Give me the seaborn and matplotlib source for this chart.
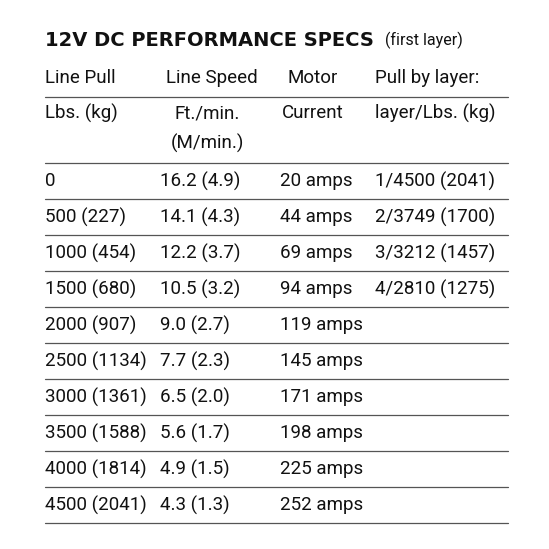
import matplotlib.pyplot as plt
import seaborn as sns

title = "12V DC PERFORMANCE SPECS"
subtitle = "(first layer)"
header1 = ["Line Pull", "Line Speed", "Motor", "Pull by layer:"]
header2 = ["Lbs. (kg)", "Ft./min.\n(M/min.)", "Current", "layer/Lbs. (kg)"]
line_pull = ["0", "500 (227)", "1000 (454)", "1500 (680)", "2000 (907)", "2500 (1134)",
             "3000 (1361)", "3500 (1588)", "4000 (1814)", "4500 (2041)"]
line_speed = ["16.2 (4.9)", "14.1 (4.3)", "12.2 (3.7)", "10.5 (3.2)", "9.0 (2.7)",
              "7.7 (2.3)", "6.5 (2.0)", "5.6 (1.7)", "4.9 (1.5)", "4.3 (1.3)"]
current = ["20 amps", "44 amps", "69 amps", "94 amps", "119 amps", "145 amps",
           "171 amps", "198 amps", "225 amps", "252 amps"]
layer_pull = ["1/4500 (2041)", "2/3749 (1700)", "3/3212 (1457)", "4/2810 (1275)"]

sns.set_theme(style="white")
plt.rcParams['font.family'] = ['Roboto', 'DejaVu Sans']

fig = plt.figure(figsize=(5.49, 5.49), dpi=100)
ax = fig.add_axes([0, 0, 1, 1])
ax.set_xlim(0, 549)
ax.set_ylim(549, 0)
ax.axis("off")

fs = 13.5
col_x = [45, 160, 313, 375]
col_ha = ["left", "left", "center", "left"]
head_x = [45, 166, 313, 375]
txt = dict(fontsize=fs, color="#111111", va="center")

ax.text(45, 40, title, fontsize=14, fontweight="bold", va="center", color="#111111",
        family="DejaVu Sans")
ax.text(385, 40, subtitle, fontsize=11.5, va="center", color="#111111")

for x, ha, t in zip(head_x, col_ha, header1):
    ax.text(x, 78, t, ha=ha, **txt)
ax.text(45, 113, header2[0], ha="left", **txt)
ax.text(207, 113, "Ft./min.", ha="center", **txt)
ax.text(207, 143, "(M/min.)", ha="center", **txt)
ax.text(313, 113, header2[2], ha="center", **txt)
ax.text(375, 113, header2[3], ha="left", **txt)

ax.plot([45, 508], [97, 97], color="#555555", lw=0.9)
ax.plot([45, 508], [163, 163], color="#555555", lw=0.9)

for i in range(len(line_pull)):
    y = 181 + i * 36
    ax.text(col_x[0], y, line_pull[i], ha="left", **txt)
    ax.text(col_x[1], y, line_speed[i], ha="left", **txt)
    ax.text(280, y, current[i], ha="left", **txt)
    if i < len(layer_pull):
        ax.text(col_x[3], y, layer_pull[i], ha="left", **txt)
    ax.plot([45, 508], [y + 18, y + 18], color="#555555", lw=0.9)

fig.savefig("out.png", dpi=100, facecolor="white")
